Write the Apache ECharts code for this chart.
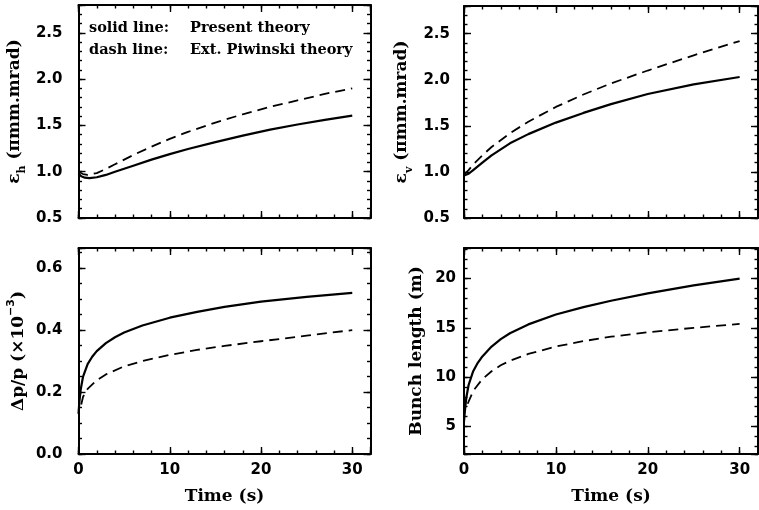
<!DOCTYPE html>
<html>
<head>
<meta charset="utf-8">
<script src="https://cdn.jsdelivr.net/npm/echarts@6/dist/echarts.min.js"></script>
<style>
html, body { margin: 0; padding: 0; background: #fff; }
#chart { width: 759px; height: 510px; }
</style>
</head>
<body>
<div id="chart"></div>
<script>
// time axis (s), shared by all four panels
var timeRange = [0, 32]
var timeSteps = [10, 2]

// top left: horizontal emittance (pi mm.mrad)
var ehRange = [0.5, 2.8]
var ehSteps = [0.5, 0.1]
var ehSolidT = [0, 0.3, 0.7, 1.2, 2, 3, 4, 6, 8, 10, 12, 15, 18, 21, 24, 27, 30]
var ehSolid = [0.98, 0.95, 0.935, 0.93, 0.94, 0.965, 1.0, 1.065, 1.13, 1.19, 1.245, 1.32, 1.39, 1.455, 1.51, 1.56, 1.605]
var ehDashT = [0, 0.5, 1, 2, 3, 4, 6, 8, 10, 12, 15, 18, 21, 24, 27, 30]
var ehDash = [1.0, 0.975, 0.965, 0.985, 1.03, 1.08, 1.18, 1.27, 1.355, 1.43, 1.53, 1.62, 1.70, 1.77, 1.84, 1.90]

// top right: vertical emittance (pi mm.mrad)
var evRange = [0.5, 2.8]
var evSteps = [0.5, 0.1]
var evSolidT = [0, 0.5, 1, 2, 3, 5, 7, 10, 13, 16, 20, 25, 30]
var evSolid = [0.96, 0.98, 1.02, 1.10, 1.18, 1.31, 1.41, 1.535, 1.64, 1.735, 1.845, 1.95, 2.03]
var evDashT = [0, 0.5, 1, 2, 3, 5, 7, 10, 13, 16, 20, 25, 30]
var evDash = [0.97, 1.02, 1.08, 1.18, 1.27, 1.42, 1.545, 1.705, 1.84, 1.96, 2.10, 2.265, 2.42]

// bottom left: momentum spread (x1e-3)
var dpRange = [0, 0.665]
var dpSteps = [0.2, 0.05]
var dpSolidT = [0, 0.1, 0.25, 0.5, 1, 1.5, 2, 3, 4, 5, 7, 10, 13, 16, 20, 25, 30]
var dpSolid = [0.13, 0.17, 0.21, 0.25, 0.29, 0.314, 0.332, 0.358, 0.377, 0.392, 0.415, 0.44, 0.459, 0.475, 0.492, 0.507, 0.52]
var dpDashT = [0.3, 0.5, 1, 2, 3, 5, 7, 10, 13, 16, 20, 25, 30]
var dpDash = [0.16, 0.185, 0.21, 0.238, 0.257, 0.283, 0.30, 0.32, 0.336, 0.349, 0.364, 0.382, 0.40]

// bottom right: bunch length (m)
var blRange = [2.2, 23.1]
var blSteps = [5, 1]
var blSolidT = [0, 0.1, 0.25, 0.5, 1, 1.5, 2, 3, 4, 5, 7, 10, 13, 16, 20, 25, 30]
var blSolid = [5.5, 6.6, 7.9, 9.2, 10.6, 11.45, 12.1, 13.1, 13.85, 14.45, 15.35, 16.35, 17.1, 17.75, 18.5, 19.3, 20.0]
var blDashT = [0.4, 1, 2, 3, 4, 5, 7, 10, 13, 16, 20, 25, 30]
var blDash = [7.3, 8.6, 9.8, 10.6, 11.2, 11.65, 12.35, 13.1, 13.65, 14.1, 14.55, 15.0, 15.4]

var legendRows = [['solid line:', 'Present theory'], ['dash line:', 'Ext. Piwinski theory']]

var grids = [
  { left: 78.5, top: 5, width: 292, height: 213 },
  { left: 464, top: 6, width: 294, height: 212 },
  { left: 78.5, top: 248, width: 292, height: 206 },
  { left: 464, top: 248, width: 294, height: 206 }
]

function zip (xs, ys) {
  return xs.map(function (x, i) { return [x, ys[i]] })
}

// one axis drawn four times: labelled side, mirrored side, and minor ticks on both
function boxAxes (gi, dim, range, steps, opt) {
  var pos = dim === 'x' ? ['bottom', 'top'] : ['left', 'right']
  var major = steps[0]
  function base (step, p, isMinor) {
    return {
      type: 'value',
      gridIndex: gi,
      position: p,
      min: range[0],
      max: range[1],
      splitNumber: 4,
      minInterval: step,
      maxInterval: step,
      splitLine: { show: false },
      axisLine: { show: !isMinor, onZero: false, lineStyle: { color: '#000', width: 2 } },
      axisTick: { show: true, inside: true, length: isMinor ? 3.5 : 7, lineStyle: { color: '#000', width: 1.4 } },
      axisLabel: { show: false }
    }
  }
  var main = base(major, pos[0], false)
  if (opt.labels) {
    main.axisLabel = {
      show: true,
      margin: opt.margin,
      color: '#000',
      fontFamily: 'DejaVu Sans',
      fontWeight: 'bold',
      fontSize: 15,
      formatter: function (v) {
        var k = v / major
        if (Math.abs(k - Math.round(k)) > 1e-6) return ''
        return opt.digits ? v.toFixed(opt.digits) : String(Math.round(v))
      }
    }
  }
  if (opt.name) {
    main.name = opt.name
    main.nameLocation = 'middle'
    main.nameGap = opt.nameGap
    main.nameTextStyle = {
      color: '#000',
      fontFamily: 'DejaVu Serif',
      fontWeight: 'bold',
      fontSize: 17,
      rich: {
        sub: { fontFamily: 'DejaVu Serif', fontWeight: 'bold', fontSize: 11, verticalAlign: 'bottom', lineHeight: 26, color: '#000' },
        sup: { fontFamily: 'DejaVu Sans', fontWeight: 'bold', fontSize: 11, verticalAlign: 'top', lineHeight: 26, color: '#000' }
      }
    }
  }
  return [
    main,
    base(major, pos[1], false),
    base(steps[1], pos[0], true),
    base(steps[1], pos[1], true)
  ]
}

var xAxes = [].concat(
  boxAxes(0, 'x', timeRange, timeSteps, {}),
  boxAxes(1, 'x', timeRange, timeSteps, {}),
  boxAxes(2, 'x', timeRange, timeSteps, { labels: true, margin: 9, name: 'Time (s)', nameGap: 34 }),
  boxAxes(3, 'x', timeRange, timeSteps, { labels: true, margin: 9, name: 'Time (s)', nameGap: 34 })
)
var yAxes = [].concat(
  boxAxes(0, 'y', ehRange, ehSteps, { labels: true, digits: 1, margin: 16, name: 'ε{sub|h} (πmm.mrad)', nameGap: 51 }),
  boxAxes(1, 'y', evRange, evSteps, { labels: true, digits: 1, margin: 14, name: 'ε{sub|v} (πmm.mrad)', nameGap: 49 }),
  boxAxes(2, 'y', dpRange, dpSteps, { labels: true, digits: 1, margin: 16, name: 'Δp/p (×10{sup|−3})', nameGap: 47 }),
  boxAxes(3, 'y', blRange, blSteps, { labels: true, margin: 8, name: 'Bunch length (m)', nameGap: 39 })
)

function line (gi, t, v, dashed) {
  return {
    type: 'line',
    xAxisIndex: gi * 4,
    yAxisIndex: gi * 4,
    data: zip(t, v),
    showSymbol: false,
    smooth: false,
    lineStyle: dashed
      ? { color: '#000', width: 1.8, type: [10, 6] }
      : { color: '#000', width: 2.2, join: 'round' }
  }
}

var legendText = []
legendRows.forEach(function (row, i) {
  var y = 28 + i * 22
  legendText.push({ type: 'text', x: 89, y: y, style: { text: row[0], font: 'bold 14.5px "DejaVu Serif"', fill: '#000', verticalAlign: 'middle' } })
  legendText.push({ type: 'text', x: 190, y: y, style: { text: row[1], font: 'bold 14.5px "DejaVu Serif"', fill: '#000', verticalAlign: 'middle' } })
})

var myChart = echarts.init(document.getElementById('chart'))
myChart.setOption({
  animation: false,
  backgroundColor: '#fff',
  grid: grids.map(function (g) { return Object.assign({ outerBoundsMode: 'none' }, g) }),
  xAxis: xAxes,
  yAxis: yAxes,
  graphic: legendText,
  series: [
    line(0, ehSolidT, ehSolid, false),
    line(0, ehDashT, ehDash, true),
    line(1, evSolidT, evSolid, false),
    line(1, evDashT, evDash, true),
    line(2, dpSolidT, dpSolid, false),
    line(2, dpDashT, dpDash, true),
    line(3, blSolidT, blSolid, false),
    line(3, blDashT, blDash, true)
  ]
})
</script>
</body>
</html>
